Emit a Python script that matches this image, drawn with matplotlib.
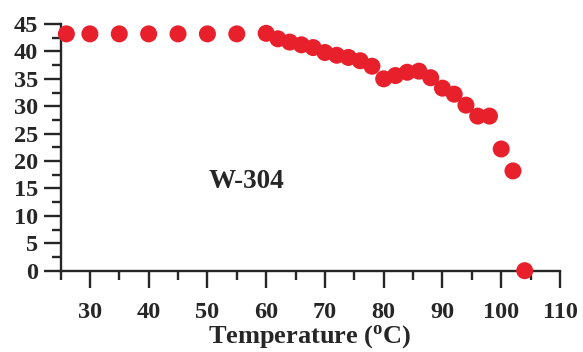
import matplotlib
matplotlib.use("Agg")
import matplotlib.pyplot as plt
from matplotlib.ticker import MultipleLocator

# Temperature (°C) and measured values for sample W-304
temperature = [26, 30, 35, 40, 45, 50, 55, 60, 62, 64, 66, 68, 70, 72, 74, 76, 78,
               80, 82, 84, 86, 88, 90, 92, 94, 96, 98, 100, 102, 104]
value = [43.2, 43.2, 43.2, 43.2, 43.2, 43.2, 43.2, 43.3, 42.3, 41.7, 41.2, 40.7, 39.8,
         39.3, 38.9, 38.3, 37.3, 35.0, 35.6, 36.2, 36.4, 35.2, 33.3, 32.2, 30.2,
         28.2, 28.2, 22.2, 18.2, 0.0]

x_ticks = [30, 40, 50, 60, 70, 80, 90, 100, 110]
y_ticks = [0, 5, 10, 15, 20, 25, 30, 35, 40, 45]

plt.rcParams['font.family'] = ['Liberation Serif', 'DejaVu Serif']
plt.rcParams['font.weight'] = 'bold'

fig = plt.figure(figsize=(5.83, 3.52), dpi=100)
ax = fig.add_axes([0.1038, 0.231, 0.8567, 0.7008])

ink = '#262626'
ax.scatter(temperature, value, s=150, color='#e8202b', edgecolors='none',
           zorder=3, clip_on=False)

ax.set_xlim(25, 110)
ax.set_ylim(0, 45)
ax.set_xticks(x_ticks)
ax.set_yticks(y_ticks)
ax.xaxis.set_minor_locator(MultipleLocator(5))
ax.yaxis.set_minor_locator(MultipleLocator(2.5))

for side in ('top', 'right'):
    ax.spines[side].set_visible(False)
for side in ('left', 'bottom'):
    ax.spines[side].set_linewidth(1.7)
    ax.spines[side].set_color(ink)

ax.tick_params(which='major', direction='out', length=12, width=1.7, color=ink,
               labelsize=17.5, labelcolor=ink)
ax.tick_params(which='minor', direction='out', length=6.5, width=1.7, color=ink)
ax.tick_params(axis='x', which='major', pad=10.5)
ax.tick_params(axis='y', which='major', pad=4)

for lbl in ax.get_xticklabels() + ax.get_yticklabels():
    lbl.set_fontweight('bold')

ax.set_xlabel('Temperature ($\\mathregular{^{o}}$C)', fontsize=19, fontweight='bold',
              color=ink, labelpad=0)

ax.text(56.7, 16.2, 'W-304', fontsize=19.5, fontweight='bold', color=ink,
        ha='center', va='center')

fig.savefig('out.png', dpi=100)
